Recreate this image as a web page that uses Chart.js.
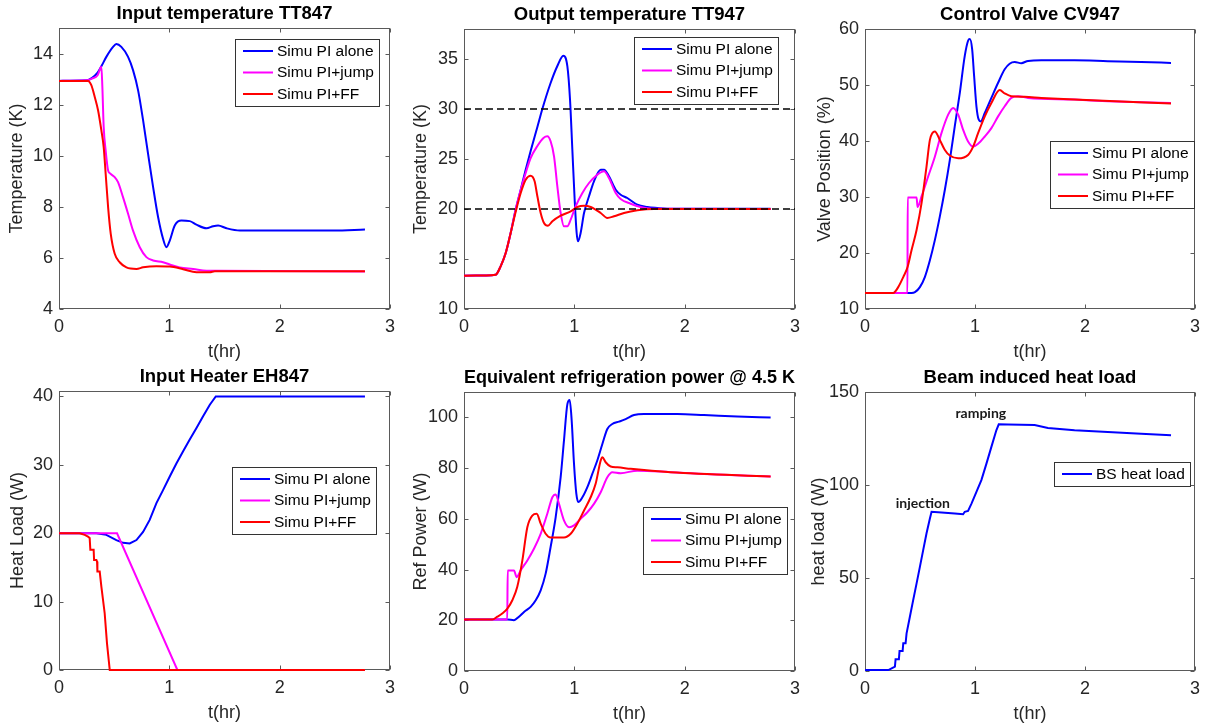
<!DOCTYPE html>
<html>
<head>
<meta charset="utf-8">
<script src="https://cdn.jsdelivr.net/npm/chart.js@4.4.1/dist/chart.umd.min.js"></script>
<style>
  html, body { margin: 0; padding: 0; background: #fff; width: 1212px; height: 727px; overflow: hidden; position: relative; }
  canvas { position: absolute; }
</style>
</head>
<body>
<script>
const seriesLabels = ['Simu PI alone', 'Simu PI+jump', 'Simu PI+FF'];
const seriesColors = ['#0000ff', '#ff00ff', '#ff0000'];
const timeTicks = [0, 1, 2, 3];

// Input temperature TT847  [t(hr), K]
const tt847Ticks = [4, 6, 8, 10, 12, 14];
const tt847Alone = [[0,12.93],[0.25,12.95],[0.30,13.05],[0.35,13.25],[0.384,13.5],[0.429,13.87],[0.49,14.26],[0.52,14.37],[0.565,14.26],[0.626,13.87],[0.671,13.35],[0.717,12.56],[0.762,11.39],[0.807,10.08],[0.853,8.77],[0.898,7.6],[0.943,6.75],[0.974,6.42],[1.004,6.68],[1.049,7.27],[1.11,7.46],[1.185,7.44],[1.246,7.3],[1.337,7.16],[1.397,7.24],[1.442,7.27],[1.518,7.16],[1.639,7.07],[2.486,7.07],[2.773,7.11]];
const tt847Jump = [[0,12.93],[0.25,12.95],[0.30,13.02],[0.35,13.15],[0.384,13.48],[0.393,12.69],[0.405,11.12],[0.423,10.2],[0.445,9.42],[0.46,9.32],[0.505,9.16],[0.535,8.97],[0.58,8.38],[0.626,7.73],[0.671,7.07],[0.732,6.42],[0.792,6.03],[0.853,5.9],[0.943,5.83],[1.004,5.74],[1.095,5.63],[1.216,5.57],[1.337,5.5],[1.427,5.5],[2.773,5.47]];
const tt847FF = [[0,12.93],[0.263,12.93],[0.293,12.76],[0.324,12.3],[0.354,11.78],[0.384,10.99],[0.405,10.34],[0.423,9.29],[0.445,7.99],[0.469,6.94],[0.505,6.16],[0.55,5.83],[0.611,5.63],[0.702,5.57],[0.762,5.63],[0.883,5.67],[1.004,5.66],[1.125,5.56],[1.246,5.44],[1.367,5.44],[1.412,5.48],[2.773,5.48]];

// Output temperature TT947
const tt947Ticks = [10, 15, 20, 25, 30, 35];
const tt947Limits = [20, 30];
const tt947Alone = [[0,13.33],[0.196,13.35],[0.287,13.43],[0.332,14.27],[0.378,15.6],[0.423,17.6],[0.468,19.93],[0.514,21.93],[0.559,23.93],[0.604,25.8],[0.665,28.2],[0.71,30.0],[0.785,32.6],[0.846,34.3],[0.9,35.33],[0.937,34.27],[0.961,30.93],[0.982,25.93],[1.003,20.93],[1.021,17.6],[1.033,16.77],[1.057,17.6],[1.088,19.6],[1.133,21.27],[1.178,22.77],[1.239,23.93],[1.269,23.93],[1.314,23.27],[1.375,21.93],[1.42,21.43],[1.48,21.1],[1.571,20.43],[1.662,20.2],[1.752,20.1],[1.843,20.03],[2.779,20.03]];
const tt947Jump = [[0,13.33],[0.196,13.35],[0.287,13.43],[0.332,14.27],[0.378,15.6],[0.423,17.6],[0.468,19.93],[0.514,21.9],[0.559,23.6],[0.604,25.1],[0.665,26.3],[0.72,27.1],[0.755,27.27],[0.785,26.77],[0.816,25.27],[0.846,22.27],[0.876,19.6],[0.906,18.27],[0.937,18.27],[0.967,18.93],[1.012,20.27],[1.073,21.6],[1.133,22.6],[1.208,23.43],[1.269,23.77],[1.314,23.1],[1.375,21.6],[1.42,21.0],[1.511,20.53],[1.601,20.2],[1.692,20.03],[2.779,20.0]];
const tt947FF = [[0,13.33],[0.196,13.35],[0.287,13.43],[0.332,14.27],[0.378,15.6],[0.423,17.6],[0.468,19.7],[0.514,21.6],[0.559,22.93],[0.604,23.33],[0.64,22.77],[0.665,21.27],[0.695,19.6],[0.725,18.6],[0.761,18.33],[0.801,18.77],[0.876,19.33],[0.967,19.77],[1.027,20.2],[1.088,20.33],[1.148,20.2],[1.239,19.6],[1.299,19.1],[1.36,19.27],[1.45,19.6],[1.571,19.87],[1.722,20.0],[2.779,20.0]];

// Control Valve CV947  [%]
const cv947Ticks = [10, 20, 30, 40, 50, 60];
const cv947Alone = [[0,12.87],[0.423,12.87],[0.454,13.0],[0.499,13.9],[0.544,15.7],[0.59,18.7],[0.635,22.3],[0.68,26.5],[0.726,31.3],[0.771,36.6],[0.816,42.6],[0.862,48.6],[0.907,55.2],[0.937,57.9],[0.953,58.2],[0.974,56.4],[0.992,51.6],[1.013,46.2],[1.034,43.8],[1.052,43.5],[1.089,45.0],[1.149,47.7],[1.21,50.4],[1.27,52.8],[1.315,53.8],[1.361,54.1],[1.421,53.9],[1.482,54.3],[1.603,54.4],[1.905,54.4],[2.207,54.25],[2.51,54.1],[2.782,53.95]];
const cv947Jump = [[0,12.87],[0.386,12.87],[0.388,29.9],[0.469,29.9],[0.478,28.2],[0.514,30.1],[0.575,33.7],[0.635,37.2],[0.695,41.4],[0.756,44.7],[0.801,45.9],[0.847,44.7],[0.892,42.0],[0.937,39.9],[0.983,39.0],[1.028,39.5],[1.089,40.8],[1.149,42.3],[1.21,44.4],[1.27,46.2],[1.33,47.7],[1.391,48.0],[1.482,47.7],[1.905,47.4],[2.207,47.1],[2.51,46.9],[2.782,46.8]];
const cv947FF = [[0,12.87],[0.257,12.87],[0.302,13.9],[0.348,15.7],[0.387,17.5],[0.423,20.5],[0.469,24.1],[0.514,28.9],[0.559,35.4],[0.59,40.2],[0.635,41.7],[0.68,40.2],[0.726,38.4],[0.771,37.4],[0.847,36.9],[0.937,37.5],[0.983,39.0],[1.028,41.4],[1.089,44.4],[1.149,46.8],[1.225,49.1],[1.27,48.5],[1.33,48.0],[1.451,47.9],[1.603,47.7],[1.905,47.4],[2.782,46.7]];

// Input Heater EH847  [W]
const eh847Ticks = [0, 10, 20, 30, 40];
const eh847Alone = [[0,20],[0.339,20],[0.429,19.76],[0.52,19.0],[0.581,18.6],[0.641,18.5],[0.702,19.0],[0.762,20.2],[0.822,21.95],[0.883,24.4],[0.943,26.3],[1.004,28.3],[1.064,30.2],[1.125,32.0],[1.185,33.7],[1.246,35.4],[1.306,37.1],[1.367,38.8],[1.421,40],[2.773,40]];
const eh847Jump = [[0,20],[0.526,20],[1.073,0],[2.773,0]];
const eh847FF = [[0,20],[0.187,20],[0.233,19.76],[0.263,19.5],[0.278,19.3],[0.284,17.6],[0.314,17.6],[0.318,16.1],[0.339,16.1],[0.345,15.85],[0.348,14.4],[0.369,14.4],[0.384,12.2],[0.414,8.3],[0.435,3.9],[0.46,0],[2.773,0]];

// Equivalent refrigeration power @ 4.5 K  [W]
const refTicks = [0, 20, 40, 60, 80, 100];
const refAlone = [[0,20.3],[0.393,20.3],[0.453,20.05],[0.498,21.4],[0.544,23.3],[0.604,25.3],[0.65,27.9],[0.695,31.8],[0.74,38.4],[0.785,48.9],[0.831,60.7],[0.876,76.4],[0.906,90.8],[0.937,105.2],[0.958,106.8],[0.976,98.7],[0.997,81.7],[1.018,69.9],[1.036,66.6],[1.073,68.5],[1.118,72.5],[1.163,77.7],[1.208,83.0],[1.254,89.5],[1.299,95.4],[1.344,97.4],[1.405,98.3],[1.465,99.3],[1.541,100.9],[1.631,101.3],[1.934,101.3],[2.175,100.9],[2.477,100.3],[2.779,99.9]];
const refJump = [[0,20.3],[0.392,20.3],[0.396,39.6],[0.453,39.6],[0.477,37.0],[0.514,39.7],[0.574,43.6],[0.634,48.2],[0.695,54.1],[0.755,62.0],[0.801,68.5],[0.831,69.6],[0.861,65.9],[0.906,59.4],[0.952,56.7],[0.997,57.4],[1.057,60.0],[1.118,62.6],[1.178,65.9],[1.239,70.5],[1.299,76.4],[1.344,78.4],[1.42,78.0],[1.571,79.0],[1.873,78.4],[2.175,77.7],[2.779,76.7]];
const refFF = [[0,20.3],[0.257,20.3],[0.302,21.4],[0.347,22.7],[0.393,24.6],[0.438,27.9],[0.483,33.2],[0.529,43.6],[0.574,56.7],[0.619,61.3],[0.659,62.0],[0.695,58.1],[0.74,54.1],[0.785,52.6],[0.906,52.6],[0.967,54.1],[1.027,58.1],[1.088,63.3],[1.148,68.5],[1.193,73.8],[1.239,83.0],[1.254,84.3],[1.284,82.3],[1.329,80.6],[1.39,80.3],[1.511,79.7],[1.873,78.4],[2.779,76.7]];

// Beam induced heat load  [W]
const beamTicks = [0, 50, 100, 150];
const beamLabels = ['BS heat load'];
const beamLoad = [[0,0.5],[0.212,0.5],[0.242,1.4],[0.272,2.3],[0.278,6.3],[0.308,6.3],[0.314,10.7],[0.342,10.7],[0.348,14.9],[0.369,14.9],[0.378,20.2],[0.408,29.2],[0.438,38.1],[0.469,47.1],[0.499,56.0],[0.529,65.0],[0.559,73.9],[0.59,82.0],[0.605,85.6],[0.696,85.2],[0.816,84.7],[0.892,84.3],[0.907,85.6],[0.937,86.1],[0.968,90.0],[1.013,96.3],[1.058,102.6],[1.104,111.5],[1.149,120.5],[1.194,129.4],[1.216,132.6],[1.3,132.5],[1.542,132.3],[1.663,130.7],[1.905,129.4],[2.207,128.5],[2.51,127.6],[2.782,126.7]];
const beamNotes = ['injection', 'ramping'];
const beamNoteT = [0.526, 1.053];
const beamNoteV = [90.3, 138.2];

const FONT = '"Liberation Sans", Arial, Helvetica, sans-serif';
const TEXT = '#262626';
const FRAME = '#5a5a5a';
const Y_AXIS_W = 60, X_AXIS_H = 56, TITLE_H = 30, RIGHT_PAD = 15, TICK_LEN = 4;

const panels = [
  { title: 'Input temperature TT847', yLabel: 'Temperature (K)', box: [59, 28, 390, 309], yMax: 15,
    yTicks: tt847Ticks, series: [tt847Alone, tt847Jump, tt847FF], smooth: true, yGap: 41.5, legend: { right: 11, top: 11 } },
  { title: 'Output temperature TT947', yLabel: 'Temperature (K)', box: [464, 29, 795, 309], yMax: 38,
    yTicks: tt947Ticks, series: [tt947Alone, tt947Jump, tt947FF], smooth: true, yGap: 42.5, legend: { right: 17, top: 8 },
    refLines: tt947Limits },
  { title: 'Control Valve CV947', yLabel: 'Valve Position (%)', box: [865, 29, 1195, 309], yMax: 60,
    yTicks: cv947Ticks, series: [cv947Alone, cv947Jump, cv947FF], smooth: true, yGap: 40, legend: { right: 1, top: 112 } },
  { title: 'Input Heater EH847', yLabel: 'Heat Load (W)', box: [59, 391, 390, 670], yMax: 40.8,
    yTicks: eh847Ticks, series: [eh847Alone, eh847Jump, eh847FF], smooth: false, yGap: 40.7, legend: { right: 14, top: 76 } },
  { title: 'Equivalent refrigeration power @ 4.5 K', yLabel: 'Ref Power (W)', box: [464, 392, 795, 671], yMax: 110,
    yTicks: refTicks, series: [refAlone, refJump, refFF], smooth: true, yGap: 42.5, legend: { right: 8, top: 115 } },
  { title: 'Beam induced heat load', yLabel: 'heat load (W)', box: [865, 392, 1195, 671], yMax: 150,
    yTicks: beamTicks, series: [beamLoad], labels: beamLabels, smooth: false, yGap: 46, legend: { right: 5, top: 70 },
    notes: { text: beamNotes, t: beamNoteT, v: beamNoteV } },
];

function line(ctx, x1, y1, x2, y2) {
  ctx.beginPath();
  ctx.moveTo(x1, y1);
  ctx.lineTo(x2, y2);
  ctx.stroke();
}

// box and inward ticks on all four sides under the lines; annotations and legend on top
function axesDecor(p, labels) {
  return {
    id: 'axesDecor',
    beforeDatasetsDraw(chart) {
      const { ctx, chartArea: a, scales } = chart;
      ctx.save();
      ctx.strokeStyle = FRAME;
      ctx.lineWidth = 1;
      const l = Math.round(a.left) + 0.5, r = Math.round(a.right) - 0.5;
      const t = Math.round(a.top) + 0.5, b = Math.round(a.bottom) - 0.5;
      ctx.strokeRect(l, t, r - l, b - t);
      scales.x.ticks.forEach(tk => {
        const px = Math.round(scales.x.getPixelForValue(tk.value)) + 0.5;
        line(ctx, px, b, px, b - TICK_LEN);
        line(ctx, px, t, px, t + TICK_LEN);
      });
      scales.y.ticks.forEach(tk => {
        const py = Math.round(scales.y.getPixelForValue(tk.value)) + 0.5;
        line(ctx, l, py, l + TICK_LEN, py);
        line(ctx, r, py, r - TICK_LEN, py);
      });
      ctx.restore();
    },
    afterDatasetsDraw(chart) {
      const { ctx, chartArea: a, scales } = chart;
      ctx.save();
      if (p.notes) {
        ctx.font = 'bold 14px Lato, "Open Sans", sans-serif';
        ctx.fillStyle = '#1a1a1a';
        ctx.textAlign = 'center';
        ctx.textBaseline = 'middle';
        p.notes.text.forEach((txt, i) => {
          ctx.fillText(txt, scales.x.getPixelForValue(p.notes.t[i]), scales.y.getPixelForValue(p.notes.v[i]));
        });
      }

      ctx.font = '15.5px ' + FONT;
      const textW = Math.max(...labels.map(s => ctx.measureText(s).width));
      const w = Math.round(8 + 30 + 4 + textW + 5);
      const h = Math.round(labels.length * 21.5 + 2.5);
      const x = Math.round(a.right - p.legend.right - w);
      const y = Math.round(a.top + p.legend.top);
      ctx.fillStyle = '#fff';
      ctx.fillRect(x, y, w, h);
      ctx.strokeStyle = '#333';
      ctx.lineWidth = 1;
      ctx.strokeRect(x + 0.5, y + 0.5, w, h);
      ctx.textAlign = 'left';
      ctx.textBaseline = 'middle';
      labels.forEach((label, i) => {
        const cy = y + 1.25 + 21.5 * i + 10.75;
        ctx.strokeStyle = seriesColors[i];
        ctx.lineWidth = 2;
        line(ctx, x + 8, cy, x + 38, cy);
        ctx.fillStyle = '#000';
        ctx.fillText(label, x + 42, cy + 0.5);
      });
      ctx.restore();
    }
  };
}

function makePanel(p) {
  const [L, T, R, B] = p.box;
  const labels = p.labels || seriesLabels;
  const w = (R - L) + Y_AXIS_W + RIGHT_PAD;
  const h = (B - T) + TITLE_H + X_AXIS_H;
  const canvas = document.createElement('canvas');
  canvas.width = w;
  canvas.height = h;
  canvas.style.left = (L - Y_AXIS_W) + 'px';
  canvas.style.top = (T - TITLE_H) + 'px';
  canvas.style.width = w + 'px';
  canvas.style.height = h + 'px';
  document.body.appendChild(canvas);

  const datasets = p.series.map((s, i) => ({
    label: labels[i],
    data: s.map(([x, y]) => ({ x, y })),
    borderColor: seriesColors[i],
    borderWidth: 2,
    pointRadius: 0,
    fill: false,
    clip: 3,
    tension: 0,
    cubicInterpolationMode: p.smooth ? 'monotone' : 'default',
    order: p.series.length - i,
  }));
  (p.refLines || []).forEach(v => {
    datasets.push({
      label: '',
      data: [{ x: 0, y: v }, { x: 3, y: v }],
      borderColor: '#000',
      borderWidth: 1.5,
      borderDash: [7, 4],
      pointRadius: 0,
      fill: false,
      order: 0,
    });
  });

  new Chart(canvas, {
    type: 'line',
    data: { datasets },
    options: {
      responsive: false,
      animation: false,
      events: [],
      layout: { padding: { left: 0, right: RIGHT_PAD, top: 0, bottom: 0 } },
      plugins: {
        legend: { display: false },
        tooltip: { enabled: false },
        title: {
          display: true,
          text: p.title,
          fullSize: false,
          color: '#000',
          font: { family: FONT, size: 18.5, weight: 'bold', lineHeight: 1.2 },
          padding: { top: 4.5, bottom: 3.3 },
        },
      },
      scales: {
        x: {
          type: 'linear',
          min: 0,
          max: 3,
          grid: { display: false, drawTicks: false },
          border: { display: false },
          afterBuildTicks: s => { s.ticks = timeTicks.map(v => ({ value: v })); },
          afterFit: s => { s.height = X_AXIS_H; },
          ticks: { color: TEXT, font: { family: FONT, size: 18, lineHeight: 1.2 }, padding: 7.5, maxRotation: 0, autoSkip: false },
          title: { display: true, text: 't(hr)', color: TEXT, font: { family: FONT, size: 18, lineHeight: 1.2 }, padding: { top: 0, bottom: 2.2 } },
        },
        y: {
          type: 'linear',
          min: p.yTicks[0],
          max: p.yMax,
          grid: { display: false, drawTicks: false },
          border: { display: false },
          afterBuildTicks: s => { s.ticks = p.yTicks.map(v => ({ value: v })); },
          afterFit: s => { s.width = Y_AXIS_W; },
          ticks: { color: TEXT, font: { family: FONT, size: 18, lineHeight: 1.2 }, padding: 6, autoSkip: false },
          title: { display: true, text: p.yLabel, color: TEXT, font: { family: FONT, size: 18, lineHeight: 1.2 }, padding: { top: Y_AXIS_W - p.yGap - 10.8, bottom: 0 } },
        },
      },
    },
    plugins: [axesDecor(p, labels)],
  });
}

panels.forEach(makePanel);
</script>
</body>
</html>
